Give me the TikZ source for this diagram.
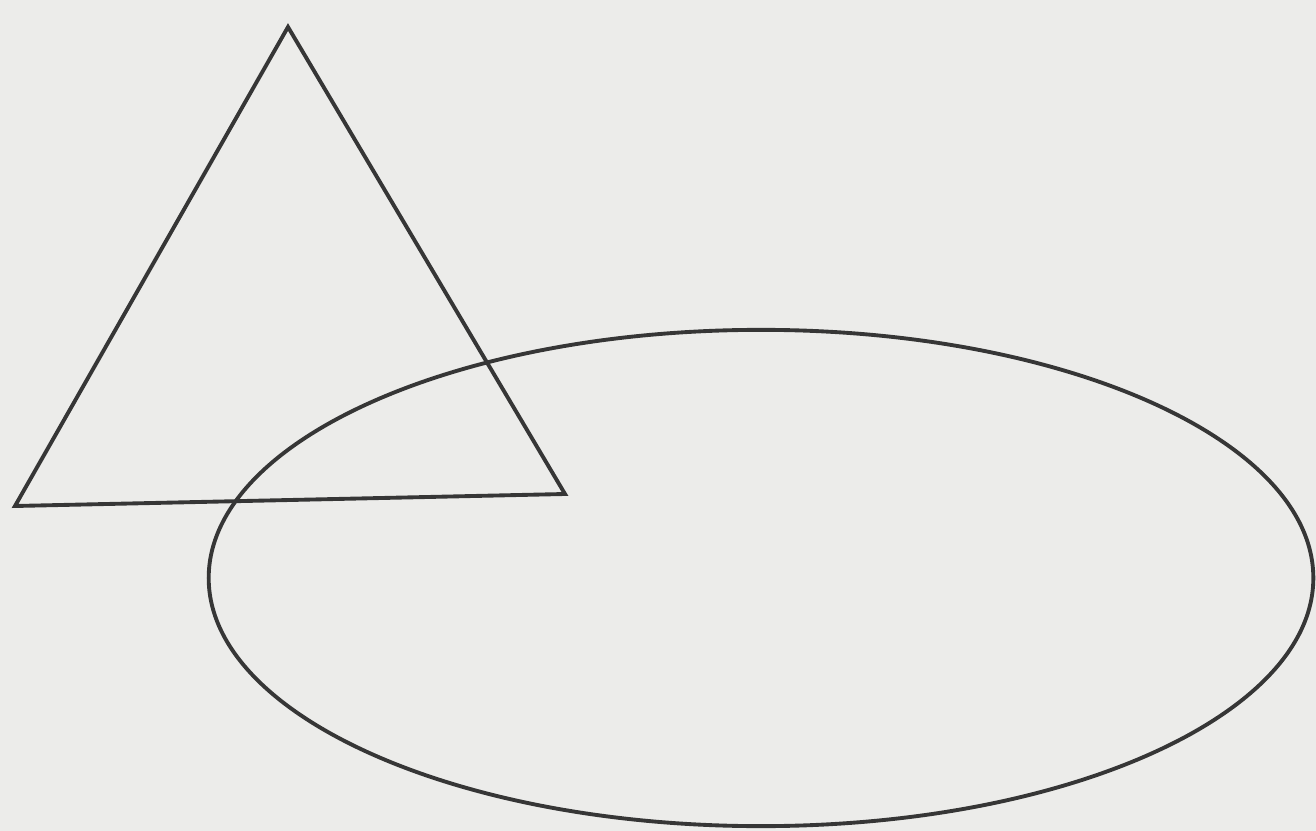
\documentclass[tikz,border=0pt]{standalone}
\usepackage{xcolor}
\definecolor{paperGrey}{HTML}{ECECEA}
\definecolor{inkGrey}{HTML}{363636}

\begin{document}
\begin{tikzpicture}[
  x=0.01cm, y=-0.01cm,
  outline/.style={draw=inkGrey, line width=1.1pt, line join=miter}
]
% page and bounding box
\fill[paperGrey] (0,0) rectangle (1316,831);
\useasboundingbox (0,0) rectangle (1316,831);

% triangle
\coordinate (apex) at (288,27);
\coordinate (left) at (15,506);
\coordinate (right) at (565,494);
\draw[outline] (apex) -- (left) -- (right) -- cycle;

% ellipse
\coordinate (centre) at (761,578);
\draw[outline] (centre) ellipse [x radius=5.52cm, y radius=2.48cm];
\end{tikzpicture}
\end{document}
